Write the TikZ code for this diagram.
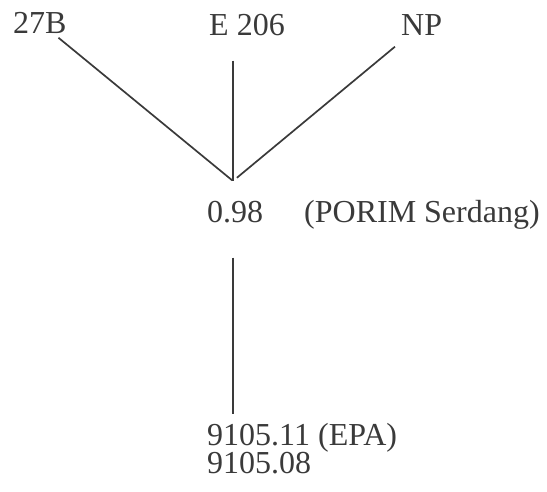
\documentclass[tikz,border=0pt]{standalone}
\usepackage{fontspec}
\setmainfont{Liberation Serif}
\definecolor{inkgray}{HTML}{3A3A3A}
\tikzset{
  lbl/.style={anchor=base west, inner sep=0pt, text=inkgray, font=\fontsize{32}{25}\selectfont},
  link/.style={draw=inkgray, line width=1.7pt}
}
\begin{document}
\begin{tikzpicture}[x=1pt, y=-1pt]
    \useasboundingbox (0,0) rectangle (547,491);

    \node[lbl] (b27) at (13,33) {27B};
    \node[lbl] (e206) at (209,35) {E 206};
    \node[lbl] (np) at (401,35) {NP};
    \coordinate (j) at (233,181);

    \node[lbl] (v098) at (207,222) {0.98};
    \node[lbl] (porim) at (304,222) {(PORIM Serdang)};

    \node[lbl] (epa) at (207,445) {9105.11};
    \node[lbl] (epasrc) at (318,445) {(EPA)};
    \node[lbl] (epb) at (207,473) {9105.08};

    \draw[link, shorten <=7pt, shorten >=1pt] (b27) -- (j);
    \draw[link, shorten <=25pt] (e206.south -| j) -- (j);
    \draw[link, shorten <=18pt, shorten >=5pt] (np) -- (j);
    \draw[link, shorten <=35pt, shorten >=10pt] (j |- v098.south) -- (j |- epa.north);
\end{tikzpicture}
\end{document}
